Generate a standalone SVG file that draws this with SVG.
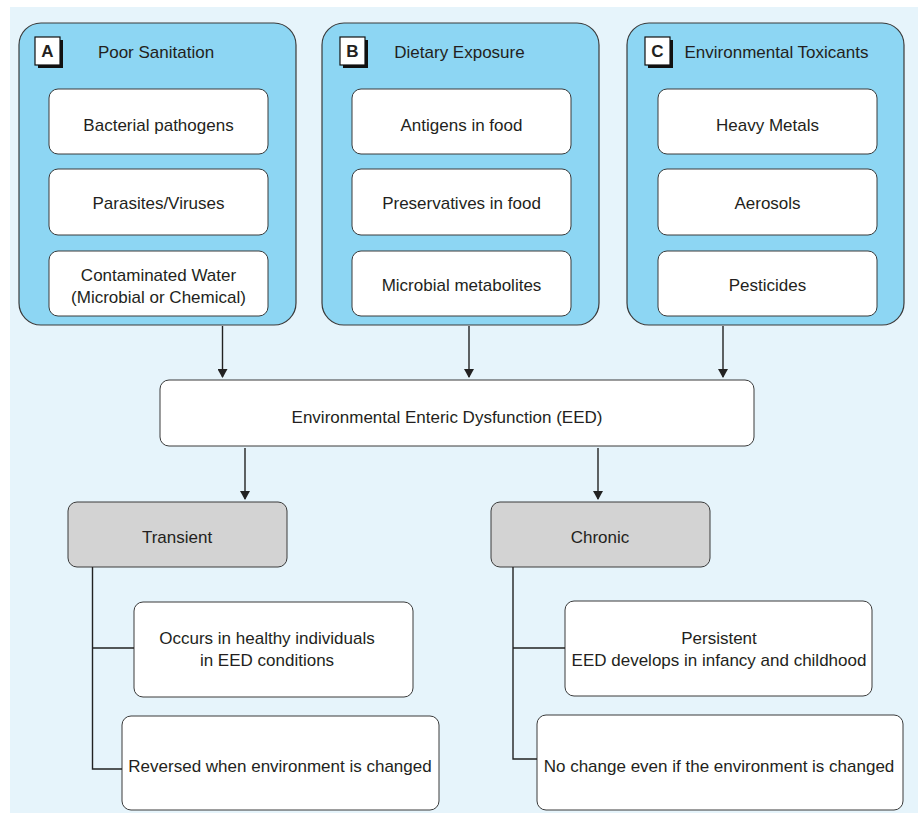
<svg xmlns="http://www.w3.org/2000/svg" width="918" height="813" viewBox="0 0 918 813">
<defs>
<style>
text{font-family:"Liberation Sans Narrow","Arial Narrow","Liberation Sans",sans-serif;font-size:17px;fill:#231f20;text-anchor:middle;dominant-baseline:central}
.grp{fill:#8dd6f3;stroke:#3a3a3a;stroke-width:1.2}
.box{fill:#fff;stroke:#3a3a3a;stroke-width:1}
.gray{fill:#d3d3d3;stroke:#3a3a3a;stroke-width:1}
.badge{fill:#fff;stroke:#111;stroke-width:1.2}
.shadow{fill:#111}
.badgetxt{font-family:"Liberation Sans","Arial",sans-serif;font-weight:bold;font-size:17px}
.conn{stroke:#222;stroke-width:1.4;fill:none}
</style>
<marker id="arr" markerWidth="10" markerHeight="10" refX="8" refY="5" orient="auto" markerUnits="userSpaceOnUse">
<path d="M0,0 L9,5 L0,10 Z" fill="#222"/>
</marker>
</defs>
<rect x="0" y="0" width="918" height="813" fill="#fff"/>
<rect x="10" y="7" width="908" height="806" fill="#e6f4fb"/>

<g id="groupA">
<rect class="grp" x="19" y="23" width="277" height="302" rx="22"/>
<rect class="shadow" x="38" y="40" width="25" height="28"/>
<rect class="badge" x="35" y="37" width="25" height="28"/>
<text class="badgetxt" x="47.5" y="51">A</text>
<text x="156" y="52">Poor Sanitation</text>
</g>
<g id="A1"><rect class="box" x="49" y="89" width="219" height="65" rx="9"/><text x="158.5" y="125">Bacterial pathogens</text></g>
<g id="A2"><rect class="box" x="49" y="169" width="219" height="66" rx="9"/><text x="158.5" y="203">Parasites/Viruses</text></g>
<g id="A3"><rect class="box" x="49" y="251" width="219" height="65" rx="9"/><text x="158.5" y="275">Contaminated Water</text><text x="158.5" y="297">(Microbial or Chemical)</text></g>

<g id="groupB">
<rect class="grp" x="322" y="23" width="277" height="302" rx="22"/>
<rect class="shadow" x="343" y="40" width="25" height="28"/>
<rect class="badge" x="340" y="37" width="25" height="28"/>
<text class="badgetxt" x="352.5" y="51">B</text>
<text x="459.5" y="52">Dietary Exposure</text>
</g>
<g id="B1"><rect class="box" x="352" y="89" width="219" height="65" rx="9"/><text x="461.5" y="125">Antigens in food</text></g>
<g id="B2"><rect class="box" x="352" y="169" width="219" height="66" rx="9"/><text x="461.5" y="203">Preservatives in food</text></g>
<g id="B3"><rect class="box" x="352" y="251" width="219" height="65" rx="9"/><text x="461.5" y="285">Microbial metabolites</text></g>

<g id="groupC">
<rect class="grp" x="627" y="23" width="277" height="302" rx="22"/>
<rect class="shadow" x="648" y="40" width="25" height="28"/>
<rect class="badge" x="645" y="37" width="25" height="28"/>
<text class="badgetxt" x="657.5" y="51">C</text>
<text x="776.5" y="52">Environmental Toxicants</text>
</g>
<g id="C1"><rect class="box" x="658" y="89" width="219" height="65" rx="9"/><text x="767.5" y="125">Heavy Metals</text></g>
<g id="C2"><rect class="box" x="658" y="169" width="219" height="66" rx="9"/><text x="767.5" y="203">Aerosols</text></g>
<g id="C3"><rect class="box" x="658" y="251" width="219" height="65" rx="9"/><text x="767.5" y="285">Pesticides</text></g>

<g id="EED"><rect class="box" x="160" y="380" width="594" height="66" rx="9"/><text x="447" y="417">Environmental Enteric Dysfunction (EED)</text></g>

<g id="transient"><rect class="gray" x="68" y="502" width="219" height="65" rx="9"/><text x="177" y="537">Transient</text></g>
<g id="chronic"><rect class="gray" x="491" y="502" width="219" height="65" rx="9"/><text x="600" y="537">Chronic</text></g>

<g id="T1"><rect class="box" x="134" y="602" width="279" height="95" rx="9"/><text x="267" y="638">Occurs in healthy individuals</text><text x="267" y="660">in EED conditions</text></g>
<g id="T2"><rect class="box" x="122" y="716" width="317" height="94" rx="9"/><text x="280" y="766">Reversed when environment is changed</text></g>
<g id="C_1"><rect class="box" x="565" y="601" width="307" height="95" rx="9"/><text x="719" y="638">Persistent</text><text x="719" y="660">EED develops in infancy and childhood</text></g>
<g id="C_2"><rect class="box" x="537" y="715" width="366" height="95" rx="9"/><text x="719" y="766">No change even if the environment is changed</text></g>

<g id="connectors">
<line class="conn" x1="222.5" y1="326" x2="222.5" y2="377" marker-end="url(#arr)"/>
<line class="conn" x1="469" y1="326" x2="469" y2="377" marker-end="url(#arr)"/>
<line class="conn" x1="723" y1="326" x2="723" y2="377" marker-end="url(#arr)"/>
<line class="conn" x1="245" y1="448" x2="245" y2="499" marker-end="url(#arr)"/>
<line class="conn" x1="598" y1="448" x2="598" y2="499" marker-end="url(#arr)"/>
<path class="conn" d="M92.5,567 V769 H122 M92.5,648 H134"/>
<path class="conn" d="M513,567 V759 H537 M513,648 H565"/>
</g>
</svg>
